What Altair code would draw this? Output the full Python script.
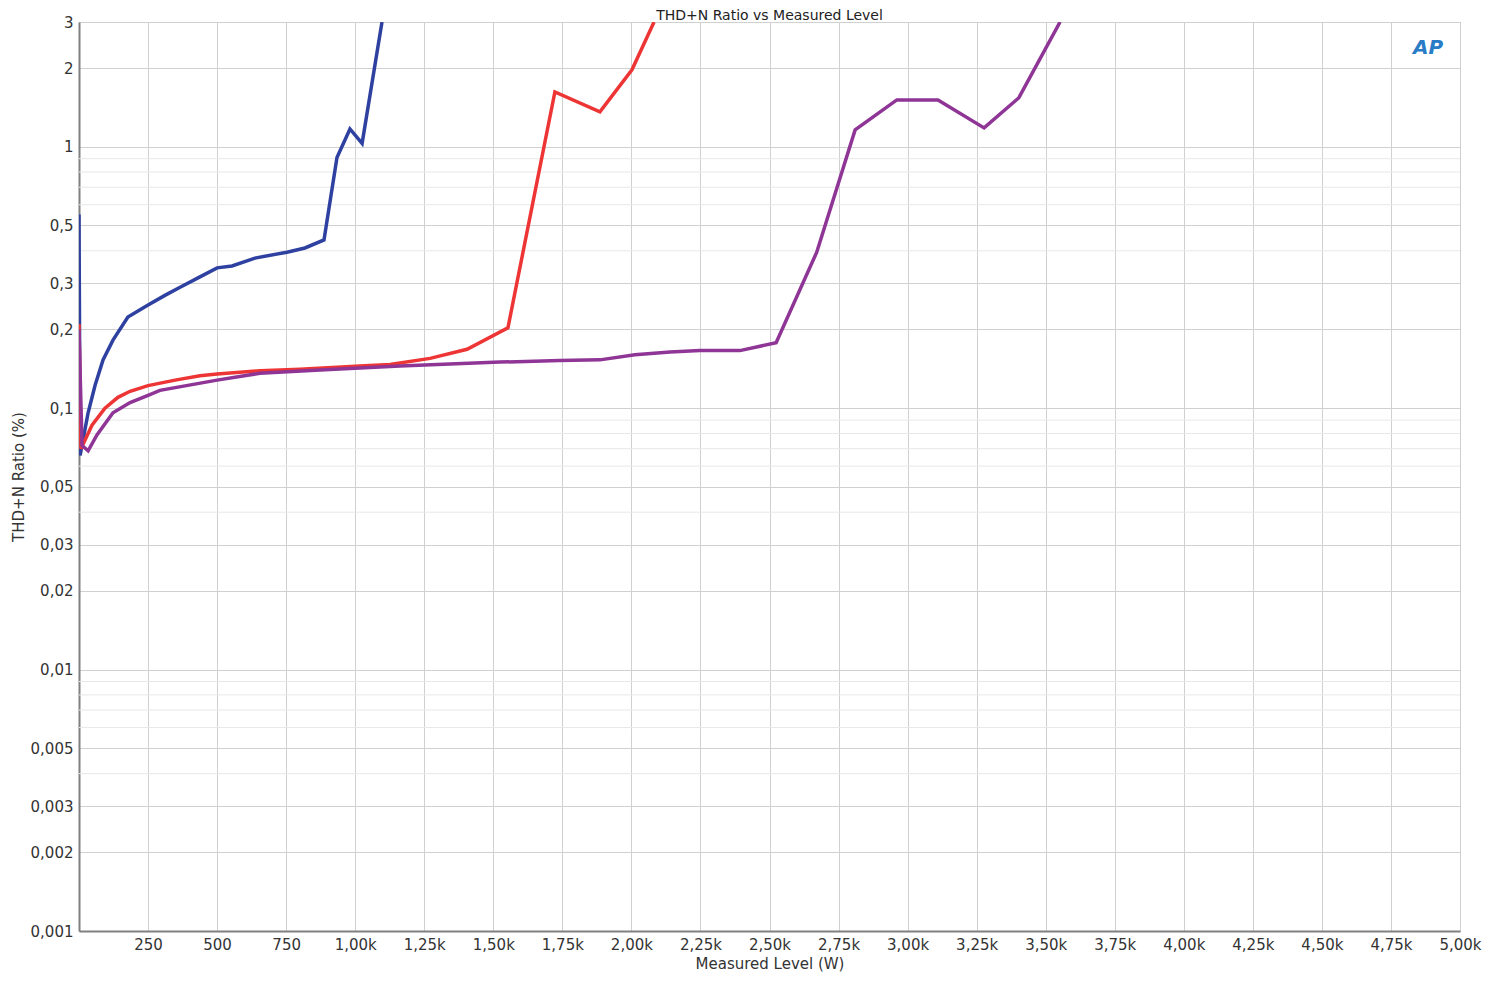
import altair as alt
import pandas as pd

# ---- data ----
blue_w = [0, 4, 33, 58, 87, 123, 177, 250, 311, 366, 431, 500, 554, 637, 753, 818, 887, 934, 981, 1025, 1097]
blue_v = [0.55, 0.066, 0.096, 0.122, 0.153, 0.182, 0.223, 0.248, 0.27, 0.29, 0.315, 0.344, 0.35, 0.375, 0.395, 0.41, 0.44, 0.91, 1.17, 1.03, 3.0]

red_w = [0, 7, 22, 47, 94, 141, 185, 250, 348, 438, 500, 655, 800, 1017, 1126, 1271, 1405, 1553, 1723, 1886, 2002, 2082]
red_v = [0.21, 0.070, 0.0755, 0.086, 0.100, 0.110, 0.116, 0.122, 0.128, 0.133, 0.135, 0.139, 0.141, 0.145, 0.147, 0.155, 0.168, 0.203, 1.62, 1.36, 1.97, 3.0]

purple_w = [0, 11, 33, 65, 123, 185, 250, 293, 500, 655, 873, 1162, 1524, 1741, 1886, 2013, 2140, 2248, 2393, 2524, 2671, 2810, 2961, 3110, 3277, 3403, 3552]
purple_v = [0.20, 0.072, 0.0687, 0.079, 0.096, 0.105, 0.112, 0.117, 0.128, 0.136, 0.140, 0.145, 0.150, 0.152, 0.153, 0.160, 0.164, 0.166, 0.166, 0.178, 0.395, 1.16, 1.51, 1.51, 1.18, 1.54, 3.0]

series_names = ["blue", "red", "purple"]
series_colors = ["#2f41a0", "#ee3535", "#8e3596"]

y_major = [0.001, 0.002, 0.003, 0.005, 0.01, 0.02, 0.03, 0.05, 0.1, 0.2, 0.3, 0.5, 1, 2, 3]
y_minor = [0.004, 0.006, 0.007, 0.008, 0.009,
           0.04, 0.06, 0.07, 0.08, 0.09,
           0.4, 0.6, 0.7, 0.8, 0.9]
x_ticks = list(range(0, 5001, 250))

rows = []
for name, ws, vs in zip(series_names, [blue_w, red_w, purple_w], [blue_v, red_v, purple_v]):
    for i, (w, v) in enumerate(zip(ws, vs)):
        rows.append({"series": name, "W": w, "ratio": v, "idx": i})
df = pd.DataFrame(rows)
minor_df = pd.DataFrame({"v": y_minor})

FONT = "DejaVu Sans"

xscale = alt.Scale(domain=[0, 5000], nice=False, zero=False)
yscale = alt.Scale(type="log", domain=[0.001, 3], nice=False)

minor = alt.Chart(minor_df).mark_rule(color="#e8e8e8", strokeWidth=1).encode(
    y=alt.Y("v:Q", scale=yscale)
)

lines = alt.Chart(df).mark_line(strokeWidth=3.5, clip=True).encode(
    x=alt.X("W:Q", scale=xscale,
            axis=alt.Axis(values=x_ticks, title="Measured Level (W)", labelFlush=False,
                          labelExpr="datum.value == 0 ? '' : (datum.value < 1000 ? format(datum.value, 'd') : replace(format(datum.value / 1000, '.2f'), '.', ',') + 'k')")),
    y=alt.Y("ratio:Q", scale=yscale,
            axis=alt.Axis(values=y_major, title="THD+N Ratio (%)", labelFlush=False,
                          labelExpr="replace(toString(datum.value), '.', ',')")),
    color=alt.Color("series:N", scale=alt.Scale(domain=series_names, range=series_colors), legend=None),
    order="idx:Q",
)

logo = alt.Chart(pd.DataFrame({"t": ["AP"]})).mark_text(
    font=FONT, fontSize=20, fontWeight="bold", fontStyle="italic", color="#2a7cc7", align="center", baseline="middle"
).encode(text="t:N", x=alt.value(1349), y=alt.value(26))

chart = alt.layer(minor, lines, logo).properties(
    width=1381, height=909,
    title=alt.TitleParams("THD+N Ratio vs Measured Level", fontSize=14, font=FONT, fontWeight="normal",
                          color="#222", offset=3, dy=11, anchor="middle"),
    autosize=alt.AutoSizeParams(type="none"),
    padding={"left": 71, "top": 14, "right": 32, "bottom": 42},
).configure_view(
    stroke="#b0b0b0", strokeWidth=1
).configure_axis(
    labelFont=FONT, labelFontSize=15, labelColor="#333", titleFont=FONT, titleFontSize=15,
    titleFontWeight="normal", titleColor="#333", ticks=False, gridColor="#d0d0d0", gridWidth=1,
    domainColor="#808080", domainWidth=2, labelPadding=6,
).configure_axisX(
    titlePadding=4, labelPadding=6
).configure_axisY(
    titlePadding=4, labelPadding=6
)

chart.save("out.html", embed_options={"renderer": "svg", "actions": False})
